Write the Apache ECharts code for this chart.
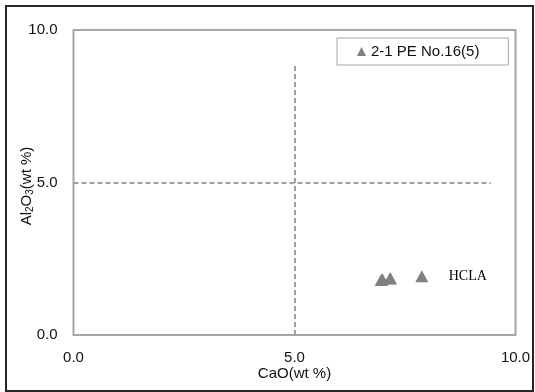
<!DOCTYPE html>
<html>
<head>
<meta charset="utf-8">
<script src="https://cdn.jsdelivr.net/npm/echarts@6/dist/echarts.min.js"></script>
<style>
html,body{margin:0;padding:0;background:#fff;}
#chart{width:535px;height:392px;}
</style>
</head>
<body>
<div id="chart"></div>
<script>
// Data
const seriesName = '2-1 PE No.16(5)';
const caoValues = [6.96, 6.99, 7.16, 7.17, 7.88];
const al2o3Values = [1.80, 1.83, 1.85, 1.86, 1.93];
const xTicks = [0, 5, 10];
const yTicks = [0, 5, 10];
const vLine = [[5, 0], [5, 8.85]];
const hLine = [[0, 5], [9.44, 5]];
const annotationText = 'HCLA';
const annotationAt = [8.92, 1.93];

const points = caoValues.map((x, i) => [x, al2o3Values[i]]);
const FONT = '"Liberation Sans", Arial, sans-serif';

const chart = echarts.init(document.getElementById('chart'), null, {renderer: 'canvas'});
chart.setOption({
  animation: false,
  backgroundColor: '#ffffff',
  grid: {
    left: 73.5, top: 30, width: 442, height: 305,
    containLabel: false, outerBoundsMode: 'none',
    show: true, borderColor: '#a6a6a6', borderWidth: 2, backgroundColor: 'transparent'
  },
  xAxis: {
    type: 'value', min: xTicks[0], max: xTicks[xTicks.length - 1], interval: 5,
    name: 'CaO(wt %)', nameLocation: 'middle', nameGap: 31, nameMoveOverlap: false,
    nameTextStyle: {fontFamily: FONT, fontSize: 15, color: '#111'},
    axisLine: {show: false}, axisTick: {show: false}, splitLine: {show: false},
    axisLabel: {fontFamily: FONT, fontSize: 15, color: '#111', margin: 15,
      formatter: v => v.toFixed(1)}
  },
  yAxis: {
    type: 'value', min: yTicks[0], max: yTicks[yTicks.length - 1], interval: 5,
    name: '{a|Al}{s|2}{a|O}{s|3}{a|(wt %)}', nameLocation: 'middle', nameGap: 39, nameMoveOverlap: false,
    nameTextStyle: {
      fontFamily: FONT, fontSize: 15, color: '#111', padding: [0, 7, 0, 0],
      rich: {
        a: {fontFamily: FONT, fontSize: 15, color: '#111', lineHeight: 16, verticalAlign: 'bottom'},
        s: {fontFamily: FONT, fontSize: 10, color: '#111', lineHeight: 16, verticalAlign: 'bottom', padding: [0, 0, -1, 0]}
      }
    },
    axisLine: {show: false}, axisTick: {show: false}, splitLine: {show: false},
    axisLabel: {fontFamily: FONT, fontSize: 15, color: '#111', margin: 16,
      formatter: v => v.toFixed(1)}
  },
  legend: {
    left: 337, top: 38,
    padding: [6, 29, 6, 20],
    borderColor: '#a6a6a6', borderWidth: 1,
    itemWidth: 9, itemHeight: 9,
    textStyle: {fontFamily: FONT, fontSize: 15, color: '#111'},
    data: [{name: seriesName, icon: 'triangle'}]
  },
  graphic: [{
    type: 'rect', silent: true, z: 100,
    shape: {x: 6, y: 6, width: 527, height: 385},
    style: {fill: 'none', stroke: '#262626', lineWidth: 2}
  }],
  series: [{
    name: seriesName,
    type: 'scatter',
    symbol: 'triangle',
    symbolSize: [13, 12],
    itemStyle: {color: '#808080', opacity: 1},
    data: points,
    markLine: {
      silent: true, symbol: 'none',
      lineStyle: {color: '#a0a0a0', type: [5, 3], width: 2},
      label: {show: false},
      data: [
        [{coord: vLine[0]}, {coord: vLine[1]}],
        [{coord: hLine[0]}, {coord: hLine[1]}]
      ]
    },
    markPoint: {
      silent: true, symbol: 'circle', symbolSize: 1,
      itemStyle: {color: 'transparent'},
      label: {show: true, position: 'inside', formatter: annotationText,
        fontFamily: '"Liberation Serif", "Times New Roman", serif', fontSize: 14, color: '#000'},
      data: [{coord: annotationAt}]
    }
  }]
});
</script>
</body>
</html>
